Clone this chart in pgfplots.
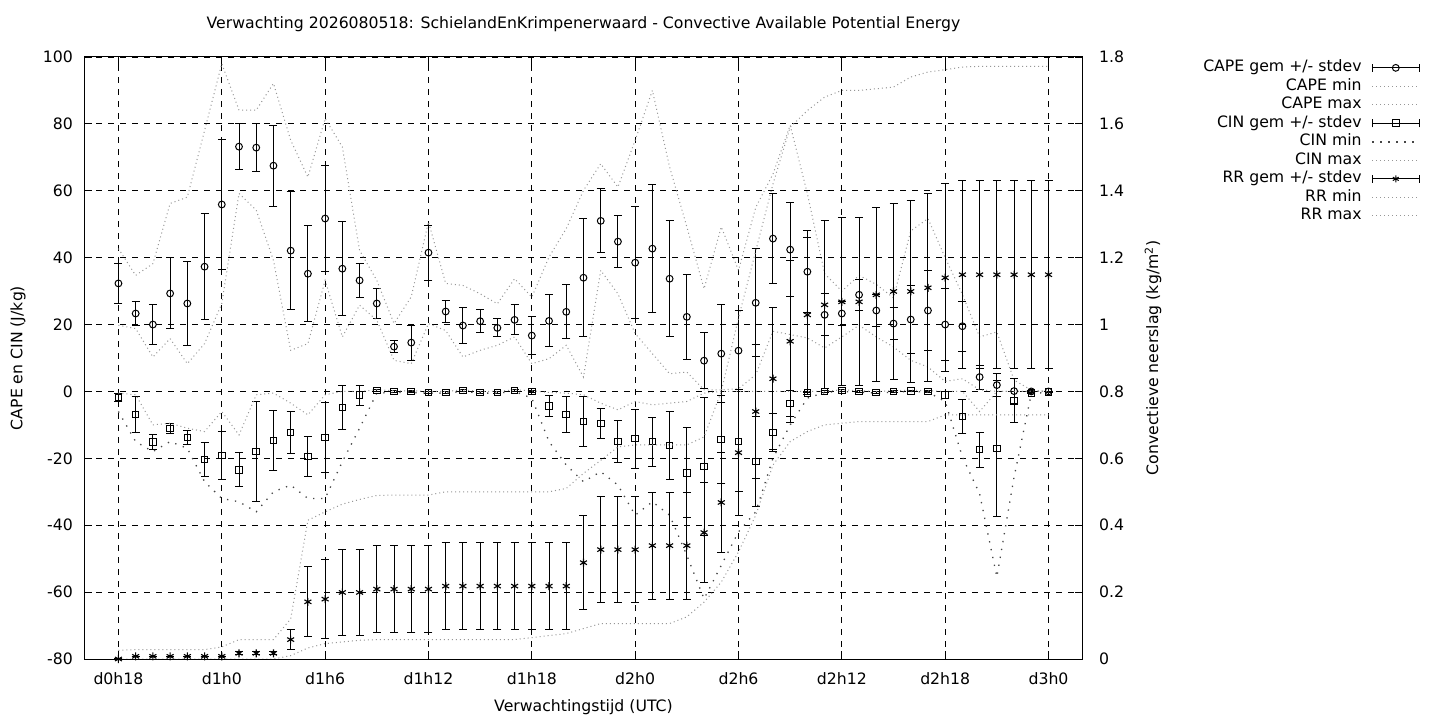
\documentclass[border=0pt]{standalone}
\usepackage{fontspec}
\setmainfont{DejaVu Sans}
\usepackage{pgfplots}
\usepackage{pgfplotstable}
\pgfplotsset{compat=1.18}
\definecolor{dotgray}{RGB}{150,150,150}
\definecolor{dotdark}{RGB}{70,70,70}
\pgfplotsset{
  errlegend/.style={legend image code/.code={
     \draw[black, line width=1bp, solid] (0bp,0bp) -- (47bp,0bp) (0bp,-4bp) -- (0bp,4bp) (47bp,-4bp) -- (47bp,4bp);
     \draw[black, line width=1bp, solid, fill=white] plot[mark=#1, mark size=3.4bp] coordinates {(23.5bp,0bp)};}},
  linelegend/.style={legend image code/.code={\draw[##1] (0bp,0bp) -- (47bp,0bp);}},
  graydot/.style={dotgray, line width=1bp, dash pattern=on 1bp off 3bp},
  darkdot/.style={dotdark, line width=1.3bp, dash pattern=on 1.3bp off 6.7bp},
  errstyle/.style={
    error bars/y dir=both, error bars/y explicit,
    error bars/error mark=|,
    error bars/error bar style={black, line width=1bp, solid},
    error bars/error mark options={black, line width=1bp, solid, mark size=4bp}},
}

\pgfplotstableread{
h m s mn mx
18 32.3 6.0 19.8 42.7
19 23.3 3.7 18.8 34.7
20 20.0 6.0 10.3 38.2
21 29.3 10.6 15.8 56.2
22 26.3 12.5 8.3 58.1
23 37.3 15.9 14.3 78.0
24 55.9 19.5 26.3 98.0
25 73.2 6.9 59.2 84.1
26 72.9 7.2 54.2 84.1
27 67.5 12.1 39.2 92.1
28 42.1 17.6 12.3 75.1
29 35.2 14.4 14.3 64.1
30 51.7 15.8 33.2 81.6
31 36.7 14.0 16.3 73.1
32 33.2 5.0 25.8 42.2
33 26.3 4.5 21.3 33.2
34 13.4 1.8 9.3 20.3
35 14.6 5.2 8.3 28.3
36 41.5 8.2 20.3 50.7
37 23.9 3.2 18.2 32.3
38 19.7 5.4 10.3 31.7
39 21.0 3.4 12.3 29.2
40 19.0 2.7 13.8 26.2
41 21.4 4.5 16.3 33.7
42 16.7 5.6 8.3 28.2
43 21.1 7.8 9.8 40.2
44 23.8 8.1 13.8 48.7
45 34.0 17.6 4.3 60.1
46 51.0 9.6 36.2 68.1
47 44.8 7.8 29.2 61.1
48 38.5 16.8 17.3 75.1
49 42.7 19.1 11.3 90.0
50 33.7 17.3 5.3 67.1
51 22.3 12.6 5.8 49.2
52 9.2 8.4 0.5 30.7
53 11.3 14.6 0.5 49.2
54 12.2 12.1 0.8 36.2
55 26.5 16.2 5.0 55.0
56 45.7 13.5 18.0 65.0
57 42.4 14.1 17.0 79.6
58 35.8 12.3 16.0 59.1
59 22.9 6.3 13.0 35.2
60 23.3 3.5 16.3 30.0
61 28.9 4.7 19.8 34.7
62 24.2 4.7 16.3 32.0
63 20.3 4.7 13.3 28.0
64 21.5 10.3 9.3 48.0
65 24.2 12.0 7.3 51.7
66 20.0 10.8 3.0 40.0
67 19.5 7.5 3.8 29.0
68 4.3 3.6 0.5 16.3
69 1.9 3.5 0.0 17.8
70 0.1 3.8 0.0 3.4
71 0.0 0.2 0.0 0.4
72 0.0 0.1 0.0 0.0
}\capetab

\pgfplotstableread{
h m s mn mx
18 -1.8 1.3 -6 -0.5
19 -6.9 5.3 -15 -1
20 -15.2 2.3 -18 -10
21 -11.1 1.5 -15 -9.5
22 -13.8 2.0 -17 -11
23 -20.4 5.1 -27 -12
24 -19.2 7.2 -32 -6
25 -23.4 5.0 -33 -13
26 -18.0 15.0 -36 -1
27 -14.7 8.9 -30 -0.5
28 -12.3 6.2 -28 -3.5
29 -19.5 5.9 -32 -7
30 -13.8 10.4 -32 -1
31 -4.8 6.7 -21 0
32 -1.1 3.0 -11 0
33 0.3 0.3 -0.5 0.5
34 0.0 0.2 -0.3 0.2
35 0.0 0.2 -0.3 0.2
36 -0.3 0.2 -0.5 0
37 -0.3 0.2 -0.5 0
38 0.3 0.2 0 0.5
39 -0.3 0.2 -0.5 0
40 -0.3 0.2 -0.5 0
41 0.3 0.2 0 0.5
42 0.0 0.2 -2 0.2
43 -4.4 3.2 -15 -0.3
44 -6.9 5.3 -22 -0.5
45 -9.0 7.5 -27 -1
46 -9.6 4.4 -24 -3.5
47 -15.0 6.2 -28 -5.5
48 -14.1 8.8 -37 -3
49 -15.0 7.3 -33 -4
50 -16.2 10.1 -37 -3.5
51 -24.3 13.4 -49 -3
52 -22.5 20.7 -62 -0.5
53 -14.4 13.1 -52 0
54 -15.0 14.9 -42 0
55 -21.0 13.4 -36 0
56 -12.3 5.6 -20 0
57 -3.6 4.0 -10 0
58 -0.5 0.5 -2 0
59 0.0 0.2 -0.3 0
60 0.3 0.2 0 0.5
61 0.0 0.2 -0.2 0.2
62 -0.3 0.2 -0.5 0
63 0.0 0.2 -0.2 0.2
64 0.2 0.2 0 0.4
65 0.0 0.2 -0.2 0.2
66 -1.0 1.0 -3 0
67 -7.5 5.0 -19.6 0
68 -17.4 5.2 -30.6 -6
69 -17.1 20.3 -55.5 0
70 -2.8 6.6 -25.6 0
71 -0.4 0.3 -0.7 0
72 -0.1 0.2 -0.2 0
}\cintab

\pgfplotstableread{
h m s mn mx
18 0.000 0.000 0.000 0.026
19 0.008 0.000 0.000 0.028
20 0.008 0.000 0.000 0.028
21 0.008 0.000 0.000 0.028
22 0.008 0.000 0.000 0.028
23 0.008 0.000 0.000 0.028
24 0.008 0.000 0.000 0.036
25 0.017 0.004 0.000 0.058
26 0.017 0.004 0.000 0.058
27 0.017 0.004 0.000 0.058
28 0.058 0.030 0.010 0.120
29 0.171 0.105 0.033 0.415
30 0.179 0.118 0.046 0.440
31 0.199 0.128 0.051 0.463
32 0.199 0.128 0.056 0.477
33 0.209 0.131 0.058 0.489
34 0.209 0.131 0.058 0.490
35 0.209 0.131 0.058 0.490
36 0.209 0.131 0.058 0.490
37 0.218 0.130 0.058 0.500
38 0.218 0.130 0.058 0.500
39 0.218 0.130 0.058 0.500
40 0.218 0.130 0.058 0.500
41 0.218 0.130 0.058 0.500
42 0.218 0.130 0.064 0.500
43 0.218 0.130 0.070 0.500
44 0.218 0.130 0.076 0.510
45 0.288 0.140 0.091 0.555
46 0.327 0.159 0.106 0.594
47 0.327 0.159 0.106 0.634
48 0.327 0.159 0.106 0.640
49 0.339 0.160 0.106 0.640
50 0.339 0.160 0.106 0.640
51 0.339 0.160 0.126 0.640
52 0.378 0.150 0.170 0.664
53 0.468 0.150 0.230 0.800
54 0.617 0.189 0.320 1.020
55 0.740 0.201 0.430 1.220
56 0.838 0.212 0.580 1.420
57 0.950 0.242 0.650 1.590
58 1.029 0.232 0.680 1.640
59 1.059 0.251 0.700 1.680
60 1.068 0.251 0.705 1.700
61 1.068 0.251 0.710 1.700
62 1.089 0.260 0.710 1.705
63 1.099 0.262 0.710 1.710
64 1.099 0.271 0.710 1.740
65 1.110 0.281 0.710 1.755
66 1.140 0.281 0.730 1.762
67 1.149 0.281 0.730 1.770
68 1.149 0.281 0.730 1.772
69 1.149 0.281 0.730 1.772
70 1.149 0.281 0.730 1.772
71 1.149 0.281 0.730 1.772
72 1.149 0.281 0.730 1.772
}\rrtab

\begin{document}
\fontsize{15.7bp}{18bp}\selectfont
\begin{tikzpicture}[font=\fontsize{15.7bp}{18bp}\selectfont]
\begin{axis}[
  at={(84bp,61bp)}, anchor=south west,
  scale only axis, width=999bp, height=602bp,
  xmin=16, xmax=74, ymin=-80, ymax=100,
  xtick={18,24,30,36,42,48,54,60,66,72},
  xticklabels={d0h18,d1h0,d1h6,d1h12,d1h18,d2h0,d2h6,d2h12,d2h18,d3h0},
  ytick={-80,-60,-40,-20,0,20,40,60,80,100},
  ytick pos=left, xtick pos=both,
  tick align=inside, major tick length=8bp,
  tick style={black, line width=0.8bp},
  grid=major,
  major grid style={black, line width=0.8bp, dash pattern=on 6bp off 6bp},
  axis line style={black, line width=1bp},
  /pgf/number format/assume math mode=true,
  yticklabel style={anchor=east, inner sep=0pt, xshift=-11bp},
  xticklabel style={anchor=base, inner sep=0pt, yshift=-25.5bp},
  title={Verwachting 2026080518: SchielandEnKrimpenerwaard - Convective Available Potential Energy},
  title style={at={(0.5,1)}, anchor=base, inner sep=0pt, yshift=22.5bp},
  xlabel={Verwachtingstijd (UTC)},
  xlabel style={at={(0.5,0)}, anchor=base, inner sep=0pt, yshift=-52.5bp},
  ylabel={CAPE en CIN (J/kg)},
  ylabel style={at={(-0.0661,0.5)}, anchor=center, inner sep=0pt},
  legend plot pos=right, legend cell align=right,
  legend style={at={(1.3373,0.994)}, anchor=north east, draw=none, fill=none,
    inner sep=0pt, outer sep=0pt, row sep=4bp, column sep=10bp,
    nodes={inner sep=0pt, text height=11bp, text depth=3.5bp}},
]
\addplot[only marks, mark=o, mark size=3.4bp, mark options={solid, fill=white, draw=black, line width=1bp}, errstyle, errlegend=o]
  table[x=h, y=m, y error=s]{\capetab};
\addlegendentry{CAPE gem +/- stdev}
\addplot[graydot, linelegend] table[x=h, y=mn]{\capetab};
\addlegendentry{CAPE min}
\addplot[graydot, linelegend] table[x=h, y=mx]{\capetab};
\addlegendentry{CAPE max}
\addplot[only marks, mark=square, mark size=3.3bp, mark options={solid, fill=white, draw=black, line width=1bp}, errstyle, errlegend=square]
  table[x=h, y=m, y error=s]{\cintab};
\addlegendentry{CIN gem +/- stdev}
\addplot[darkdot, linelegend] table[x=h, y=mn]{\cintab};
\addlegendentry{CIN min}
\addplot[graydot, linelegend] table[x=h, y=mx]{\cintab};
\addlegendentry{CIN max}
\addlegendimage{errlegend=asterisk}
\addlegendentry{RR gem +/- stdev}
\addlegendimage{graydot, linelegend}
\addlegendentry{RR min}
\addlegendimage{graydot, linelegend}
\addlegendentry{RR max}
\end{axis}
\begin{axis}[
  at={(84bp,61bp)}, anchor=south west,
  scale only axis, width=999bp, height=602bp,
  xmin=16, xmax=74, ymin=0, ymax=1.8,
  hide x axis, axis y line*=right,
  ytick={0,0.2,0.4,0.6,0.8,1,1.2,1.4,1.6,1.8},
  tick align=inside, major tick length=8bp,
  tick style={black, line width=0.8bp},
  axis line style={black, line width=1bp},
  /pgf/number format/assume math mode=true,
  yticklabel style={anchor=west, inner sep=0pt, xshift=16bp},
  ylabel={Convectieve neerslag (kg/m\textsuperscript{2})},
  ylabel style={at={(1.0701,0.5)}, anchor=center, inner sep=0pt},
]
\addplot[only marks, mark=asterisk, mark size=4bp, mark options={solid, black, line width=1.1bp}, errstyle]
  table[x=h, y=m, y error=s]{\rrtab};
\addplot[graydot] table[x=h, y=mn]{\rrtab};
\addplot[graydot] table[x=h, y=mx]{\rrtab};
\end{axis}
\pgfresetboundingbox
\path (0,0) rectangle (1440bp,720bp);
\end{tikzpicture}
\end{document}
